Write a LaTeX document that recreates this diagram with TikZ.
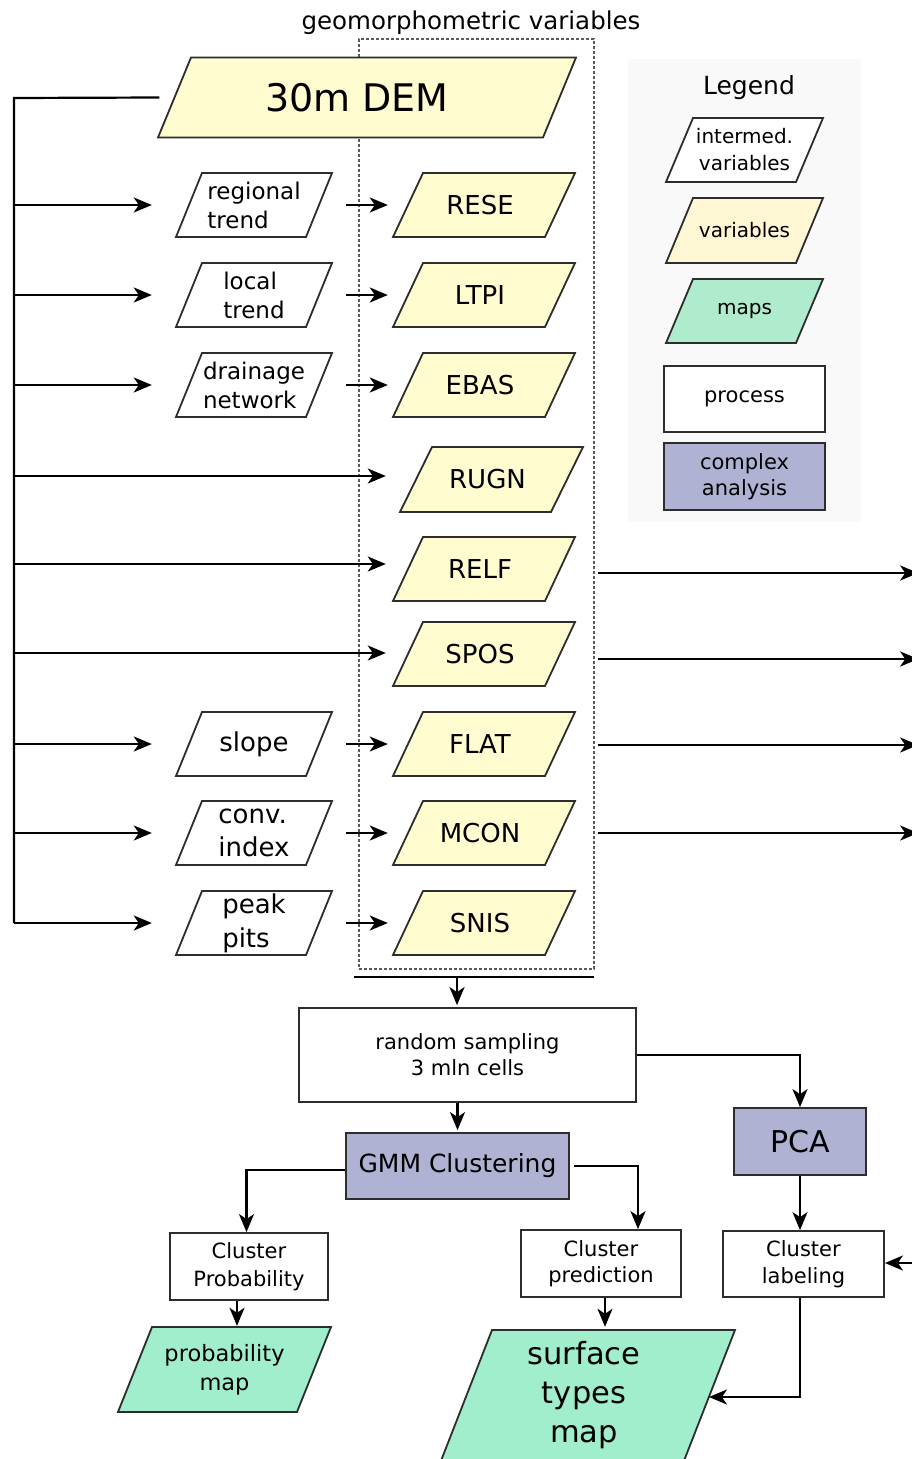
\documentclass[tikz,border=0pt]{standalone}
\usepackage{fontspec}
\setmainfont{DejaVu Sans}
\usetikzlibrary{arrows.meta}
\definecolor{varY}{RGB}{255,252,208}
\definecolor{legY}{RGB}{255,246,212}
\definecolor{mapG}{RGB}{161,238,204}
\definecolor{legG}{RGB}{175,235,205}
\definecolor{lav}{RGB}{175,178,210}
\definecolor{bdc}{RGB}{45,45,45}
\definecolor{legbg}{RGB}{249,249,249}
\definecolor{dashc}{RGB}{90,90,90}
\newcommand\fs[2]{\fontsize{#1}{#2}\selectfont}
\newcommand\vl[1]{\hspace*{-8pt}#1}
\tikzset{
  bd/.style={draw=bdc, line width=1.8pt, line join=miter},
  pgtext/.style={inner sep=0pt, text=black},
  box/.style={draw=bdc, line width=1.8pt, inner sep=0pt, align=center, fill=white, font=\fs{21}{26}},
  ln/.style={line width=2.2pt, draw=black},
  arr/.style={ln, -{Stealth[length=18pt,width=15pt,inset=5pt]}},
  dashbox/.style={draw=dashc, line width=1.1pt, dash pattern=on 3pt off 2pt},
}
% fill, name, cx, cy, W (bbox width), h, slant, node options, text
\newcommand\pg[9]{%
  \path[bd,fill=#1] ({#3-#5/2},{#4+#6/2}) -- ({#3+#5/2-#7},{#4+#6/2}) -- ({#3+#5/2},{#4-#6/2}) -- ({#3-#5/2+#7},{#4-#6/2}) -- cycle;
  \node[pgtext,minimum width={#5-#7},minimum height={#6},#8] (#2) at (#3,#4) {#9};}
\begin{document}
\begin{tikzpicture}[x=1pt,y=-1pt]
\useasboundingbox (0,0) rectangle (912,1459);

% title and group box
\node[font=\fs{24.5}{30}] (title) at (471,23) {geomorphometric variables};
\node[dashbox, minimum width=235, minimum height=930, inner sep=0pt] (grp) at (476.5,504) {};

% legend
\node[fill=legbg, minimum width=233, minimum height=463, inner sep=0pt] (legend) at (744.5,290.5) {};
\node[font=\fs{25}{30}] (legT) at (749,88) {Legend};
\pg{white}{lgI}{744.5}{150}{157}{64}{27}{font=\fs{20}{27},align=center}{intermed.\\variables}
\pg{legY}{lgV}{744.5}{230.5}{157}{65}{27}{font=\fs{20}{27}}{variables}
\pg{legG}{lgM}{744.5}{311}{157}{64}{27}{font=\fs{20}{27}}{maps}
\node[box, minimum width=161, minimum height=66] (lgP) at (744.5,399) {process};
\node[box, fill=lav, minimum width=161, minimum height=67] (lgC) at (744.5,476.5) {complex\\analysis};

% DEM
\pg{varY}{DEM}{367}{97.5}{418}{80}{33}{font=\fs{38}{44}}{\hspace*{-20pt}30m DEM}

% intermediate variables
\pg{white}{reg}{254}{205}{156}{64}{26}{font=\fs{23}{29},align=left}{regional\\trend}
\pg{white}{loc}{254}{295}{156}{64}{26}{font=\fs{23}{29},align=left}{local\\trend}
\pg{white}{drn}{254}{385}{156}{64}{26}{font=\fs{23}{29},align=left}{drainage\\network}
\pg{white}{slp}{254}{744}{156}{64}{26}{font=\fs{26}{33}}{slope}
\pg{white}{cnv}{254}{833}{156}{64}{26}{font=\fs{26}{33},align=left}{conv.\\index}
\pg{white}{pkp}{254}{923}{156}{64}{26}{font=\fs{26}{34},align=left}{peak\\pits}

% variables
\pg{varY}{RESE}{484}{205}{182}{64}{30}{font=\fs{26}{30}}{\vl{RESE}}
\pg{varY}{LTPI}{484}{295}{182}{64}{30}{font=\fs{26}{30}}{\vl{LTPI}}
\pg{varY}{EBAS}{484}{385}{182}{64}{30}{font=\fs{26}{30}}{\vl{EBAS}}
\pg{varY}{RUGN}{491.5}{479.5}{183}{65}{32}{font=\fs{26}{30}}{\vl{RUGN}}
\pg{varY}{RELF}{484}{569}{182}{64}{30}{font=\fs{26}{30}}{\vl{RELF}}
\pg{varY}{SPOS}{484}{654}{182}{64}{30}{font=\fs{26}{30}}{\vl{SPOS}}
\pg{varY}{FLAT}{484}{744}{182}{64}{30}{font=\fs{26}{30}}{\vl{FLAT}}
\pg{varY}{MCON}{484}{833}{182}{64}{30}{font=\fs{26}{30}}{\vl{MCON}}
\pg{varY}{SNIS}{484}{923}{182}{64}{30}{font=\fs{26}{30}}{\vl{SNIS}}

% trunk
\coordinate (tr0) at (14,98);
\coordinate (tr1) at (14,205);
\coordinate (tr2) at (14,295);
\coordinate (tr3) at (14,385);
\coordinate (tr4) at (14,476);
\coordinate (tr5) at (14,564);
\coordinate (tr6) at (14,653);
\coordinate (tr7) at (14,744);
\coordinate (tr8) at (14,833);
\coordinate (tr9) at (14,923);
\draw[ln] ([xshift=-15pt]DEM.west) -- (tr0) -- (tr9);
\draw[arr,shorten >=37pt] (tr1) -- (reg.west);
\draw[arr,shorten >=37pt] (tr2) -- (loc.west);
\draw[arr,shorten >=37pt] (tr3) -- (drn.west);
\draw[arr,shorten >=30pt] (tr4) -- (tr4 -| RUGN.west);
\draw[arr,shorten >=22pt] (tr5) -- (tr5 -| RELF.west);
\draw[arr,shorten >=22pt] (tr6) -- (tr6 -| SPOS.west);
\draw[arr,shorten >=37pt] (tr7) -- (slp.west);
\draw[arr,shorten >=37pt] (tr8) -- (cnv.west);
\draw[arr,shorten >=37pt] (tr9) -- (pkp.west);

% intermediate -> variable
\draw[arr,shorten <=27pt,shorten >=20pt] (reg.east) -- (RESE.west);
\draw[arr,shorten <=27pt,shorten >=20pt] (loc.east) -- (LTPI.west);
\draw[arr,shorten <=27pt,shorten >=20pt] (drn.east) -- (EBAS.west);
\draw[arr,shorten <=27pt,shorten >=20pt] (slp.east) -- (FLAT.west);
\draw[arr,shorten <=27pt,shorten >=20pt] (cnv.east) -- (MCON.west);
\draw[arr,shorten <=27pt,shorten >=20pt] (pkp.east) -- (SNIS.west);

% outgoing arrows
\draw[arr] ([xshift=38pt,yshift=-4pt]RELF.east) -- ++(320,0);
\draw[arr] ([xshift=38pt,yshift=-5pt]SPOS.east) -- ++(320,0);
\draw[arr] ([xshift=38pt,yshift=-1pt]FLAT.east) -- ++(320,0);
\draw[arr] ([xshift=38pt]MCON.east) -- ++(320,0);

% lower part
\node[box, minimum width=337, minimum height=94] (rs) at (467.5,1055) {random sampling\\3 mln cells};
\node[box, fill=lav, minimum width=223, minimum height=66, font=\fs{25}{30}] (GMM) at (457.5,1166) {GMM Clustering};
\node[box, fill=lav, minimum width=132, minimum height=67, font=\fs{30}{36}] (PCA) at (800,1141.5) {PCA};
\node[box, minimum width=158, minimum height=67, font=\fs{21}{28}] (cprob) at (249,1266.5) {Cluster\\Probability};
\node[box, minimum width=160, minimum height=67] (cpred) at (601,1263.5) {Cluster\\prediction};
\node[box, minimum width=161, minimum height=66, font=\fs{21}{27}] (clab) at (803.5,1264) {Cluster\\labeling};
\pg{mapG}{pmap}{224.5}{1369.5}{213}{85}{34}{font=\fs{22.5}{29},align=center}{probability\\map}
\pg{mapG}{surf}{584.25}{1405}{301.5}{150}{58.5}{}{}
\node[font=\fs{30.5}{39},align=center] (surfT) at (584,1395) {surface\\types\\map};

\coordinate (bb1) at (354,977);
\coordinate (bb2) at (594,977);
\coordinate (bbm) at (457,977);
\coordinate (inR) at (912,1263);
\draw[ln] (bb1) -- (bb2);
\draw[arr,shorten >=2pt] (bbm) -- (bbm |- rs.north);
\draw[arr,shorten >=2pt] (GMM.north |- rs.south) -- (GMM.north);
\draw[arr] (rs.east) -| (PCA.north);
\draw[arr] ([yshift=-4pt]GMM.west) -| ([xshift=-2.5pt]cprob.north);
\draw[arr] ([xshift=4pt]GMM.east) -| ([xshift=37pt]cpred.north);
\draw[arr,shorten >=1pt] ([xshift=-12pt]cprob.south) -- ([xshift=-12pt]cprob.south |- pmap.north);
\draw[arr,shorten >=3pt] ([xshift=4pt]cpred.south) -- ([xshift=4pt]cpred.south |- surf.north);
\draw[arr] (PCA.south) -- (PCA.south |- clab.north);
\draw[arr] ([xshift=-3.5pt]clab.south) |- ([xshift=3pt,yshift=8pt]surf.east);
\draw[arr] (inR) -- (inR -| clab.east);
\end{tikzpicture}
\end{document}
